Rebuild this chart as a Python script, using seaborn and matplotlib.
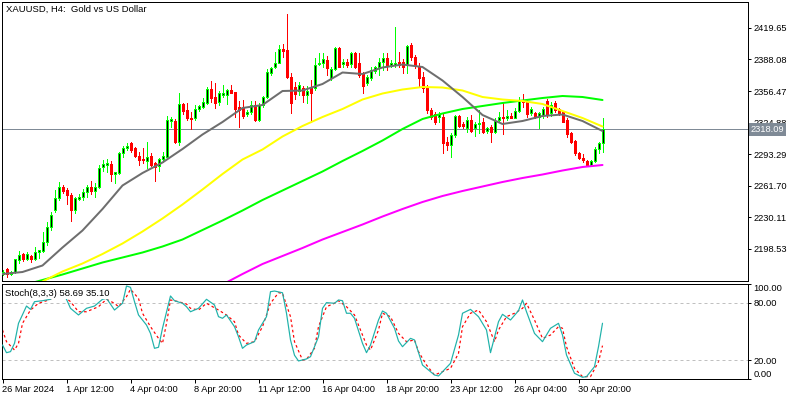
import numpy as np
import pandas as pd
import matplotlib
matplotlib.use("Agg")
import matplotlib.pyplot as plt
import matplotlib.transforms as mtransforms
import seaborn as sns

sns.set_theme(style="white")
plt.rcParams['font.family'] = ['Liberation Sans', 'DejaVu Sans']

# ---------------- data ----------------
opens = [2173.5, 2178.5, 2173.5, 2175.5, 2187.5, 2193.5, 2188.5, 2191.5, 2188.5, 2195.5,
         2196.5, 2205.5, 2220.5, 2238.0, 2249.5, 2260.5, 2257.5, 2252.5, 2237.5, 2248.5,
         2250.5, 2255.5, 2260.5, 2256.5, 2260.5, 2280.5, 2282.5, 2283.5, 2273.5, 2274.5,
         2294.5, 2299.5, 2304.5, 2299.5, 2291.5, 2288.5, 2286.5, 2291.5, 2284.5, 2281.5,
         2288.5, 2290.5, 2326.5, 2326.5, 2305.5, 2343.5, 2337.5, 2329.5, 2329.5, 2338.5,
         2340.5, 2344.5, 2358.5, 2350.5, 2345.5, 2352.5, 2352.5, 2357.5, 2355.5, 2340.5,
         2339.5, 2333.5, 2335.5, 2342.5, 2327.5, 2342.5, 2350.5, 2374.5, 2380.5, 2384.5,
         2398.5, 2397.5, 2370.5, 2360.5, 2356.5, 2359.5, 2352.5, 2359.5, 2359.5, 2383.5,
         2384.5, 2387.5, 2369.5, 2378.5, 2399.5, 2383.5, 2385.5, 2383.5, 2394.5, 2384.5,
         2374.5, 2364.5, 2369.5, 2376.5, 2380.5, 2385.5, 2389.5, 2382.5, 2382.5, 2385.5,
         2385.5, 2382.5, 2402.5, 2390.5, 2381.5, 2370.5, 2360.5, 2337.5, 2333.5, 2330.5,
         2330.5, 2305.5, 2302.5, 2312.5, 2331.5, 2323.5, 2319.5, 2327.5, 2319.5, 2323.5,
         2325.5, 2316.5, 2320.5, 2315.5, 2327.5, 2330.5, 2329.5, 2331.5, 2329.5, 2336.5,
         2347.5, 2346.5, 2334.5, 2334.5, 2330.5, 2332.5, 2346.5, 2334.5, 2344.5, 2338.5,
         2335.5, 2327.5, 2314.5, 2306.5, 2294.5, 2289.5, 2286.5, 2282.5, 2286.5, 2298.5,
         2304.5]
highs = [2177.5, 2180.0, 2176.5, 2188.5, 2196.5, 2194.5, 2195.5, 2192.5, 2200.5, 2197.5,
         2215.5, 2225.5, 2235.5, 2257.5, 2265.5, 2262.5, 2259.5, 2254.5, 2250.5, 2253.5,
         2258.5, 2262.5, 2266.5, 2264.5, 2282.5, 2287.5, 2288.5, 2286.5, 2275.5, 2295.5,
         2301.5, 2304.5, 2305.5, 2300.5, 2295.5, 2299.5, 2305.5, 2294.5, 2285.5, 2289.5,
         2295.5, 2331.5, 2330.5, 2328.5, 2354.5, 2344.5, 2344.5, 2335.5, 2342.5, 2342.5,
         2349.5, 2360.5, 2366.5, 2364.5, 2356.5, 2362.5, 2358.5, 2362.5, 2355.5, 2346.5,
         2347.5, 2337.5, 2346.5, 2346.5, 2344.5, 2351.5, 2378.5, 2380.5, 2395.5, 2402.5,
         2403.5, 2433.5, 2374.5, 2365.5, 2365.5, 2361.5, 2361.5, 2367.5, 2389.5, 2394.5,
         2394.5, 2391.5, 2380.5, 2400.5, 2400.5, 2388.5, 2388.5, 2395.5, 2395.5, 2394.5,
         2375.5, 2372.5, 2380.5, 2381.5, 2389.5, 2394.5, 2394.5, 2387.5, 2420.5, 2395.5,
         2388.5, 2402.5, 2404.5, 2392.5, 2384.5, 2375.5, 2362.5, 2339.5, 2335.5, 2335.5,
         2334.5, 2310.5, 2314.5, 2332.5, 2332.5, 2325.5, 2330.5, 2332.5, 2325.5, 2337.5,
         2329.5, 2320.5, 2322.5, 2329.5, 2335.5, 2345.5, 2337.5, 2334.5, 2339.5, 2350.5,
         2353.5, 2347.5, 2340.5, 2335.5, 2335.5, 2340.5, 2348.5, 2345.5, 2346.5, 2339.5,
         2336.5, 2329.5, 2315.5, 2307.5, 2295.5, 2293.5, 2287.5, 2287.5, 2300.5, 2305.5,
         2329.5]
lows = [2172.5, 2171.0, 2172.5, 2174.5, 2184.5, 2186.5, 2187.5, 2185.5, 2187.5, 2189.5,
        2195.5, 2202.5, 2217.5, 2235.5, 2247.5, 2254.5, 2243.5, 2226.5, 2234.5, 2247.5,
        2247.5, 2250.5, 2253.5, 2250.5, 2259.5, 2276.5, 2275.5, 2266.5, 2264.5, 2273.5,
        2290.5, 2297.5, 2295.5, 2290.5, 2282.5, 2284.5, 2279.5, 2281.5, 2266.5, 2276.5,
        2285.5, 2290.5, 2320.5, 2304.5, 2302.5, 2333.5, 2327.5, 2318.5, 2327.5, 2336.5,
        2339.5, 2343.5, 2345.5, 2339.5, 2342.5, 2350.5, 2343.5, 2354.5, 2330.5, 2320.5,
        2329.5, 2331.5, 2333.5, 2326.5, 2326.5, 2340.5, 2349.5, 2372.5, 2379.5, 2384.5,
        2390.5, 2369.5, 2334.5, 2348.5, 2352.5, 2345.5, 2344.5, 2325.5, 2357.5, 2382.5,
        2380.5, 2372.5, 2367.5, 2377.5, 2380.5, 2380.5, 2380.5, 2380.5, 2379.5, 2370.5,
        2354.5, 2362.5, 2367.5, 2374.5, 2372.5, 2377.5, 2377.5, 2380.5, 2380.5, 2380.5,
        2374.5, 2374.5, 2387.5, 2379.5, 2360.5, 2355.5, 2334.5, 2328.5, 2323.5, 2325.5,
        2294.5, 2297.5, 2290.5, 2310.5, 2320.5, 2319.5, 2315.5, 2315.5, 2311.5, 2314.5,
        2314.5, 2314.5, 2305.5, 2314.5, 2325.5, 2313.5, 2327.5, 2329.5, 2329.5, 2335.5,
        2340.5, 2330.5, 2332.5, 2329.5, 2319.5, 2329.5, 2330.5, 2331.5, 2335.5, 2332.5,
        2325.5, 2310.5, 2304.5, 2292.5, 2288.5, 2285.5, 2281.5, 2282.5, 2285.5, 2294.5,
        2295.5]
closes = [2175.5, 2173.5, 2175.5, 2188.5, 2192.5, 2188.5, 2193.5, 2188.5, 2195.5, 2197.5,
          2205.5, 2220.5, 2232.5, 2249.5, 2260.5, 2256.5, 2252.5, 2237.5, 2249.5, 2250.5,
          2255.5, 2260.5, 2256.5, 2260.5, 2279.5, 2283.5, 2284.5, 2273.5, 2275.5, 2294.5,
          2299.5, 2301.5, 2297.5, 2291.5, 2287.5, 2287.5, 2290.5, 2282.5, 2280.5, 2288.5,
          2291.5, 2327.5, 2328.5, 2305.5, 2343.5, 2336.5, 2329.5, 2328.5, 2338.5, 2341.5,
          2345.5, 2358.5, 2349.5, 2344.5, 2354.5, 2354.5, 2357.5, 2354.5, 2338.5, 2337.5,
          2331.5, 2335.5, 2342.5, 2327.5, 2342.5, 2350.5, 2375.5, 2379.5, 2384.5, 2398.5,
          2396.5, 2370.5, 2344.5, 2353.5, 2362.5, 2352.5, 2356.5, 2354.5, 2382.5, 2384.5,
          2388.5, 2379.5, 2378.5, 2399.5, 2380.5, 2385.5, 2382.5, 2394.5, 2380.5, 2372.5,
          2361.5, 2370.5, 2377.5, 2380.5, 2385.5, 2389.5, 2382.5, 2384.5, 2384.5, 2382.5,
          2380.5, 2401.5, 2390.5, 2381.5, 2369.5, 2359.5, 2337.5, 2330.5, 2325.5, 2333.5,
          2304.5, 2302.5, 2312.5, 2331.5, 2321.5, 2321.5, 2327.5, 2316.5, 2323.5, 2324.5,
          2315.5, 2319.5, 2315.5, 2326.5, 2330.5, 2329.5, 2331.5, 2329.5, 2336.5, 2346.5,
          2345.5, 2333.5, 2338.5, 2330.5, 2334.5, 2338.5, 2333.5, 2342.5, 2337.5, 2334.5,
          2325.5, 2313.5, 2305.5, 2294.5, 2289.5, 2287.5, 2282.5, 2286.5, 2298.5, 2304.5,
          2318.09]

ma_bars = list(range(0, 151, 5))
ma_gray = [2173.5, 2175.5, 2182.0, 2200.0, 2217.0, 2238.5, 2262.0, 2274.5, 2285.0, 2298.5,
           2313.0, 2325.5, 2339.5, 2342.5, 2356.5, 2357.0, 2363.5, 2375.0, 2373.5, 2380.0,
           2383.0, 2380.5, 2367.0, 2350.5, 2332.5, 2323.5, 2326.5, 2331.5, 2333.0, 2326.5,
           2316.5]
ma_yellow = [2140.0, 2150.0, 2166.0, 2176.0, 2184.0, 2193.5, 2204.0, 2216.0, 2229.0, 2243.0,
             2258.0, 2273.5, 2288.0, 2298.0, 2311.0, 2321.5, 2330.5, 2338.5, 2348.0, 2354.0,
             2358.0, 2360.5, 2360.0, 2357.0, 2350.5, 2348.0, 2346.5, 2343.5, 2336.5, 2329.5,
             2321.0]
ma_green = [2158.0, 2162.0, 2167.5, 2173.0, 2179.0, 2185.0, 2190.0, 2195.0, 2201.0, 2208.0,
            2217.5, 2227.0, 2237.0, 2247.5, 2257.0, 2266.5, 2276.0, 2286.5, 2296.5, 2307.0,
            2318.5, 2328.5, 2334.0, 2338.5, 2341.5, 2344.5, 2347.0, 2349.5, 2351.5, 2350.5,
            2347.5]
ma200_bars = list(range(50, 151, 5))
ma_magenta = [2152.5, 2163.0, 2173.5, 2183.5, 2191.5, 2199.5, 2208.0, 2215.5, 2223.0, 2231.0,
              2238.5, 2245.5, 2251.5, 2256.5, 2261.0, 2265.5, 2269.5, 2273.0, 2277.0, 2280.5,
              2282.5]

k_bars = [0, 1, 2, 3, 4, 6, 7, 8, 10, 12, 13, 14, 15, 16, 17, 19, 21, 23, 25, 26, 28,
          30, 31, 32, 33, 34, 36, 37, 38, 39, 40, 42, 43, 45, 46, 47, 49, 51, 53, 54, 55,
          56, 58, 59, 60, 61, 63, 64, 66, 67, 68, 70, 71, 72, 73, 74, 76, 77, 79, 80, 81,
          83, 84, 85, 86, 87, 88, 90, 91, 92, 94, 95, 96, 98, 99, 100, 102, 103, 105, 108,
          109, 112, 114, 115, 117, 119, 121, 122, 124, 125, 127, 129, 130, 131, 133, 135,
          137, 139, 140, 141, 143, 145, 146, 148, 149, 150]
k_vals = [35.8, 27.7, 28.8, 37.5, 58.6, 76.8, 73.3, 81.4, 82.4, 83.9, 90, 91, 90, 83.9, 74.4,
          67.4, 74.4, 76.8, 83.9, 84.9, 72.6, 79.7, 97.9, 96.5, 81.4, 67.4, 56.8, 48, 32.3,
          33.4, 53.4, 87.4, 82.4, 79.7, 76.1, 70.8, 74.4, 83.9, 77.9, 65.6, 63.9, 67.4, 55.1,
          44.5, 32.3, 35.8, 39.3, 51.6, 65.6, 91.9, 92.6, 90.8, 69.2, 41.1, 25, 19, 21.1,
          23.5, 44.5, 74.4, 80.4, 79.7, 83.2, 82.4, 69.2, 69.2, 63.9, 37.5, 27.7, 35.8, 62.1,
          71.6, 69.2, 53.4, 40, 34, 42.8, 41.1, 14.7, 4.2, 3.2, 16.5, 46.3, 69.2, 73.3, 65.6,
          51.6, 27.7, 60.3, 68.1, 62.1, 71.9, 83.2, 70.8, 48, 39.3, 53.4, 58.6, 46.3, 25.3,
          6, 1.8, 2.5, 13, 34, 58.69]
d_bars = [0, 1, 3, 4, 5, 7, 9, 11, 13, 15, 17, 19, 21, 24, 26, 28, 29, 31, 32, 34, 35, 37,
          39, 40, 41, 42, 44, 46, 47, 49, 51, 54, 56, 58, 59, 61, 63, 65, 67, 69, 70, 72, 73,
          75, 76, 78, 79, 81, 83, 84, 86, 88, 89, 91, 92, 94, 95, 97, 99, 101, 103, 104, 106,
          108, 110, 112, 114, 115, 117, 119, 121, 123, 124, 126, 128, 130, 131, 133, 135,
          137, 139, 140, 141, 143, 145, 147, 149, 150]
d_vals = [51.6, 39.3, 30.5, 37.5, 58.6, 72.6, 79.7, 82.4, 86, 88, 81.4, 70.8, 70.8, 76.1,
          83.9, 79.7, 76.1, 86.7, 94.4, 84.9, 69.2, 55.1, 42.8, 37.5, 58.6, 83.2, 81.4, 78.9,
          74.4, 72.6, 79.7, 72.6, 67.4, 60.3, 46.3, 37.5, 39.3, 55.1, 79.7, 90.8, 90.2, 65.6,
          39.3, 20, 20.7, 32.3, 55.1, 76.1, 79.7, 82.4, 76.1, 67.4, 56.8, 35.8, 30.5, 51.6,
          69.2, 65.6, 48, 39.3, 41.1, 28.8, 14.7, 4.2, 7.7, 11.2, 27, 55.1, 69.2, 72.6, 60.3,
          39.3, 51.6, 65.6, 69.2, 74.4, 79.7, 62.1, 42.8, 46.3, 55.1, 53.4, 34, 11.2, 2.5,
          2.5, 18.2, 35.1]

price_ticks = [2419.65, 2388.08, 2356.47, 2324.88, 2293.29, 2261.70, 2230.11, 2198.53]
last_price = 2318.09
date_ticks = [0, 16, 32, 48, 64, 80, 96, 112, 128, 144]
date_labels = ["26 Mar 2024", "1 Apr 12:00", "4 Apr 04:00", "8 Apr 20:00", "11 Apr 12:00",
               "16 Apr 04:00", "18 Apr 20:00", "23 Apr 12:00", "26 Apr 04:00", "30 Apr 20:00"]
title = "XAUUSD, H4:  Gold vs US Dollar"
stoch_label = "Stoch(8,3,3) 58.69 35.10"

# ---------------- figure ----------------
PX = 0.72  # one pixel in points
fig = plt.figure(figsize=(8, 4), dpi=100, facecolor="white")
ax = fig.add_axes([2 / 800, 1 - 281 / 400, 746 / 800, 279 / 400])
ax2 = fig.add_axes([2 / 800, 1 - 379 / 400, 746 / 800, 95 / 400])

df = pd.DataFrame({"bar": np.arange(len(opens)), "open": opens, "high": highs,
                   "low": lows, "close": closes})
bull = (df["close"] >= df["open"]).values
bottom = np.minimum(df["open"], df["close"]).values
height = np.abs(df["close"] - df["open"]).values

GREEN = "#00ff00"
RED = "#ff0000"

ax.axhline(last_price, color="#7f8a96", lw=PX, zorder=1)

ax.vlines(df["bar"], df["low"], df["high"], colors=np.where(bull, GREEN, RED),
          lw=PX, zorder=2, antialiased=False)
ax.bar(df["bar"][bull], height[bull], bottom=bottom[bull], width=0.5, color="black",
       edgecolor=GREEN, linewidth=PX, zorder=3, antialiased=False)
ax.bar(df["bar"][~bull], height[~bull], bottom=bottom[~bull], width=0.5, color=RED,
       edgecolor=RED, linewidth=PX, zorder=3, antialiased=False)

sns.lineplot(x=ma200_bars, y=ma_magenta, ax=ax, color="#ff00ff", lw=2 * PX, zorder=4)
sns.lineplot(x=ma_bars, y=ma_green, ax=ax, color=GREEN, lw=2 * PX, zorder=4)
sns.lineplot(x=ma_bars, y=ma_yellow, ax=ax, color="#ffff00", lw=2 * PX, zorder=4)
sns.lineplot(x=ma_bars, y=ma_gray, ax=ax, color="#6e6e6e", lw=2 * PX, zorder=5)

xlim = (-0.125, 186.375)
ax.set_xlim(*xlim)
ax.set_ylim(2166.5, 2445.5)
ax.set_xticks([])
ax.yaxis.tick_right()
ax.set_yticks(price_ticks)
ax.set_yticklabels([f"{v:.2f}" for v in price_ticks])
ax.tick_params(axis="y", which="both", direction="out", length=2.5, width=PX, pad=1.5,
               labelsize=6.7, colors="black", right=True, left=False)
ax.set_xlabel("")
ax.set_ylabel("")
for s in ax.spines.values():
    s.set_color("black")
    s.set_linewidth(PX)
    s.set_visible(True)

# current price box
trans = mtransforms.blended_transform_factory(ax.transAxes, ax.transData)
ax.text(1.004, last_price, f"{last_price:.2f}", transform=trans, ha="left", va="center",
        color="white", fontsize=6.7, clip_on=False, zorder=10,
        bbox=dict(boxstyle="square,pad=0.18", fc="#7f8a96", ec="none"))

# stochastic panel
ax2.axhline(80, color="#c0c0c0", lw=PX, dashes=(3, 3), zorder=1)
ax2.axhline(20, color="#c0c0c0", lw=PX, dashes=(3, 3), zorder=1)
sns.lineplot(x=k_bars, y=k_vals, ax=ax2, color="#20b2aa", lw=PX * 1.2, zorder=3)
sns.lineplot(x=d_bars, y=d_vals, ax=ax2, color=RED, lw=PX * 1.2, zorder=2,
             dashes=False, linestyle=(0, (2.2, 2.2)))
ax2.set_xlim(*xlim)
ax2.set_ylim(0, 100)
ax2.yaxis.tick_right()
ax2.set_yticks([100, 80, 20, 0])
ax2.set_yticklabels(["100.00", "80.00", "20.00", "0.00"])
ax2.tick_params(axis="y", which="both", direction="out", length=2.5, width=PX, pad=1.5,
                labelsize=6.7, colors="black", right=True, left=False)
ylab = ax2.get_yticklabels()
ylab[0].set_verticalalignment("top")
ylab[3].set_verticalalignment("bottom")
ax2.set_xticks(date_ticks)
ax2.set_xticklabels(date_labels)
ax2.tick_params(axis="x", which="both", direction="out", length=3, width=PX, pad=1.2,
                labelsize=6.7, colors="black", bottom=True)
for lbl in ax2.get_xticklabels():
    lbl.set_horizontalalignment("left")
ax2.set_xlabel("")
ax2.set_ylabel("")
for s in ax2.spines.values():
    s.set_color("black")
    s.set_linewidth(PX)
    s.set_visible(True)

fig.text(6 / 800, 1 - 9 / 400, title, fontsize=6.8, va="center", ha="left", color="black")
fig.text(5 / 800, 1 - 293.5 / 400, stoch_label, fontsize=6.8, va="center", ha="left",
         color="black", zorder=20,
         bbox=dict(boxstyle="square,pad=0.1", fc="white", ec="none"))

fig.savefig("out.png", dpi=100, facecolor="white")
